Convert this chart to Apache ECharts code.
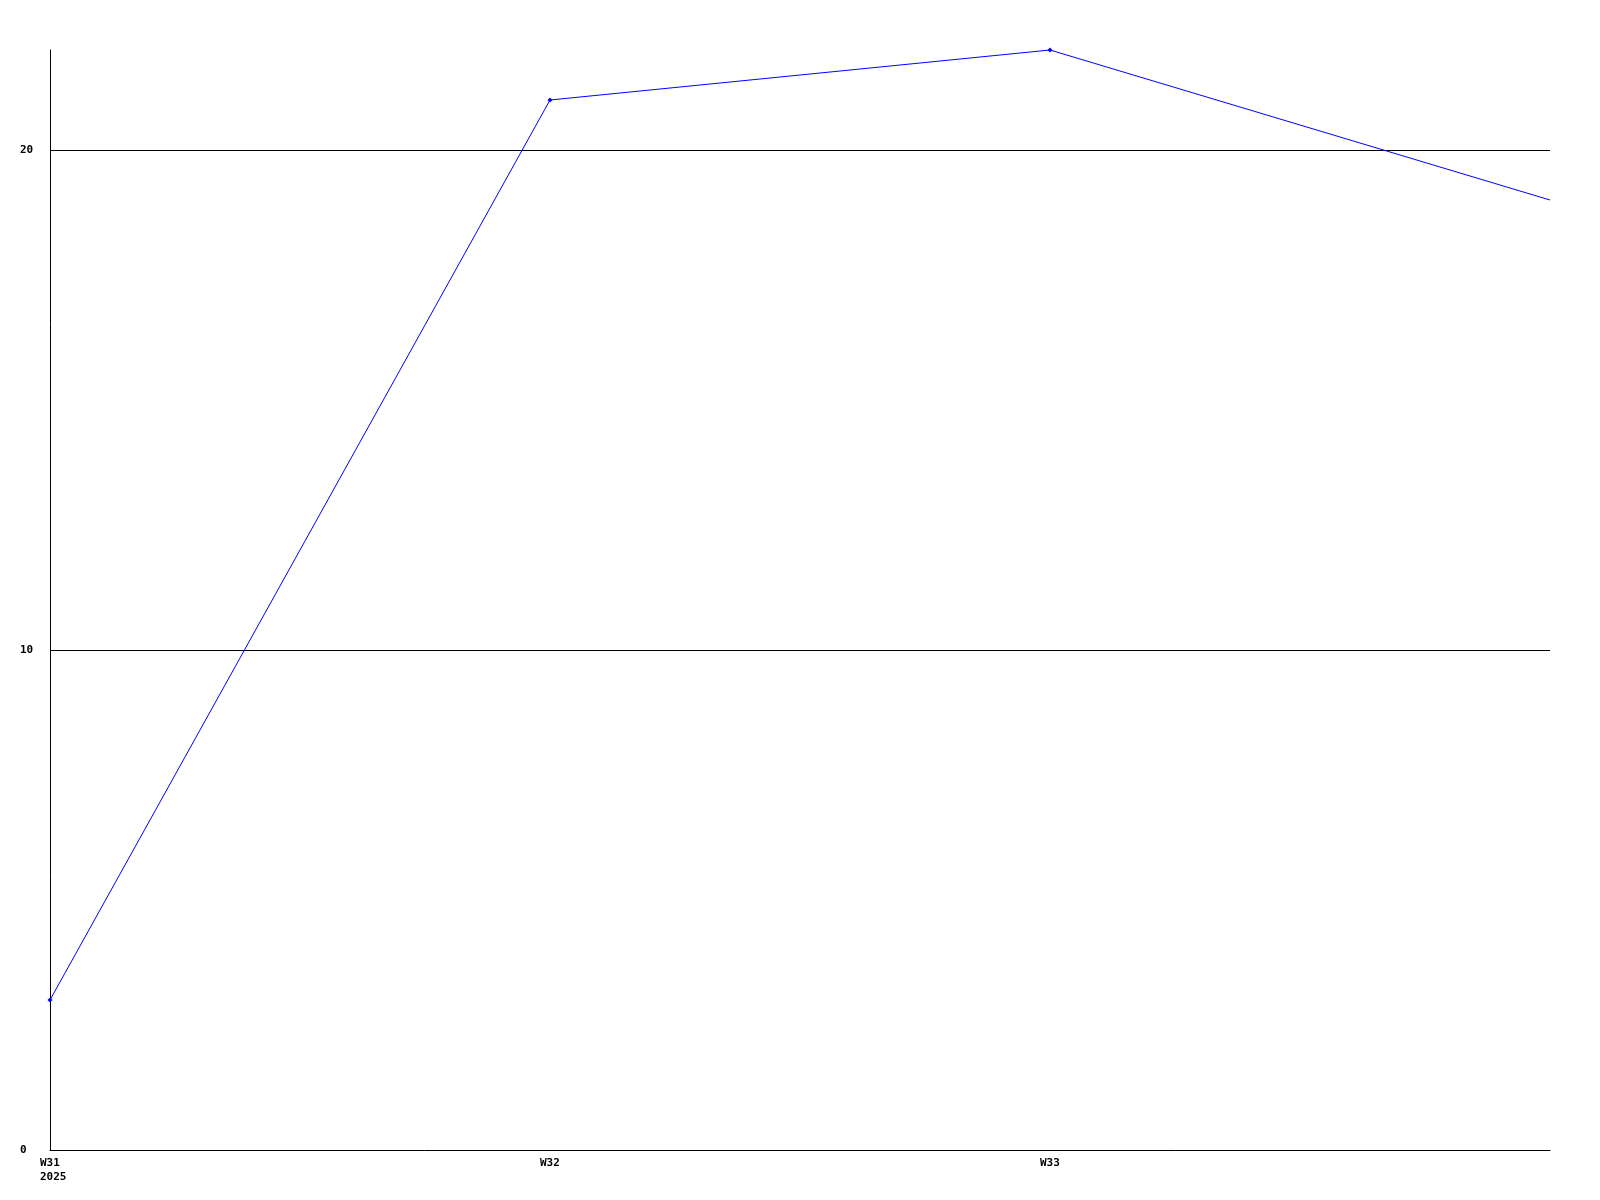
<!DOCTYPE html>
<html>
<head>
<meta charset="utf-8">
<script src="https://cdn.jsdelivr.net/npm/echarts@6/dist/echarts.min.js"></script>
<style>html,body{margin:0;padding:0;background:#fff}#c{width:1600px;height:1200px}</style>
</head>
<body>
<div id="c"></div>
<script>
const categories = ['W31', 'W32', 'W33', 'W34'];
const categoryLabels = ['W31\n2025', 'W32', 'W33', ''];
const values = [3.0, 21.0, 22.0, 19.0];
const yTicks = [0, 10, 20];

const chart = echarts.init(document.getElementById('c'), null, {renderer: 'canvas'});
const font = {fontFamily: 'DejaVu Sans Mono', fontSize: 11, fontWeight: 'bold', color: '#000'};
const seriesData = values.map((v, i) => i === values.length - 1 ? {value: v, symbol: 'none'} : v);
chart.setOption({
  animation: false,
  backgroundColor: '#fff',
  grid: {left: 50, right: 50, top: 50, bottom: 50, containLabel: false},
  xAxis: {
    type: 'category',
    data: categories,
    boundaryGap: false,
    axisLine: {show: true, lineStyle: {color: '#000', width: 1}},
    axisTick: {show: false},
    splitLine: {show: false},
    axisLabel: Object.assign({}, font, {
      interval: 0,
      margin: 6,
      lineHeight: 14,
      align: 'center',
      width: 20,
      overflow: 'none',
      formatter: (v, i) => categoryLabels[i] ? categoryLabels[i].split('\n').map(s => '{a|' + s + '}').join('\n') : '',
      rich: {a: Object.assign({}, font, {lineHeight: 14, align: 'left'})}
    })
  },
  yAxis: {
    type: 'value',
    min: 0,
    max: 22,
    interval: 10,
    axisLine: {show: true, lineStyle: {color: '#000', width: 1}},
    axisTick: {show: false},
    splitLine: {show: true, showMinLine: false, showMaxLine: false, lineStyle: {color: '#000', width: 1}},
    axisLabel: Object.assign({}, font, {
      align: 'left',
      margin: 30,
      showMaxLabel: false,
      formatter: v => yTicks.includes(v) ? String(v) : ''
    })
  },
  series: [{
    type: 'line',
    data: seriesData,
    symbol: 'diamond',
    symbolSize: 5,
    showAllSymbol: true,
    lineStyle: {color: '#0000ff', width: 1},
    itemStyle: {color: '#0000ff'},
    clip: false
  }]
});
</script>
</body>
</html>
